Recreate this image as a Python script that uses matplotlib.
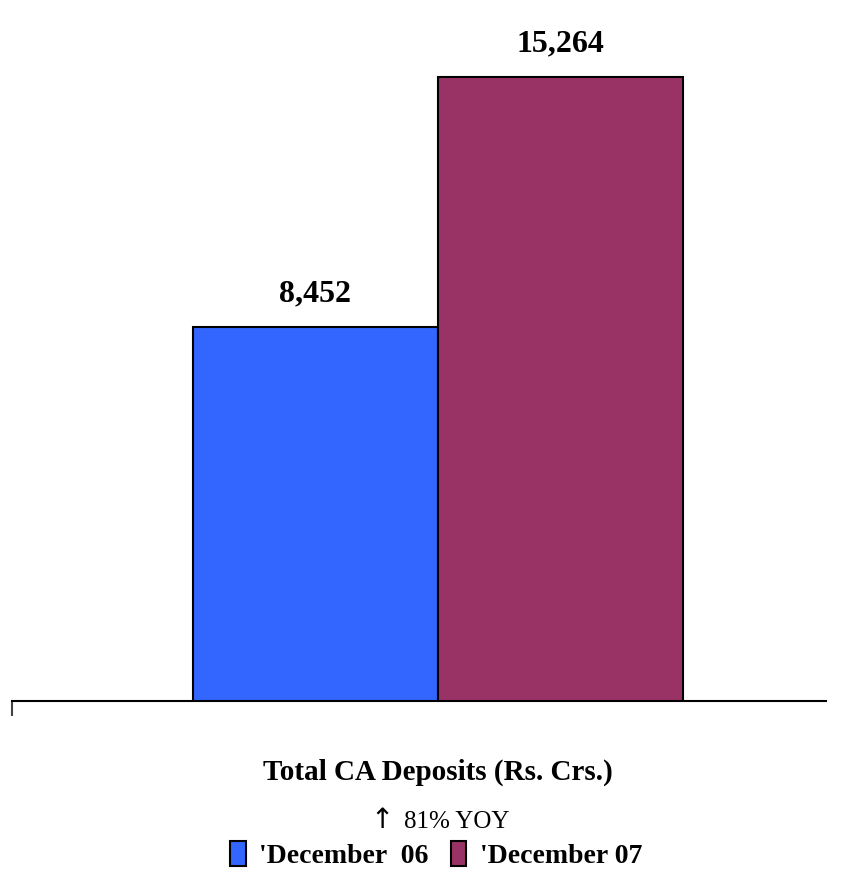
import matplotlib.pyplot as plt
from matplotlib.patches import Patch

periods = ["'December  06", "'December 07"]
deposits = [8452, 15264]
colors = ['#3366FF', '#993366']
title = 'Total CA Deposits (Rs. Crs.)'
arrow = '\u2191'
growth = '81% YOY'

# value axis does not start at zero
base = -1739
top = 16817

plt.rcParams['font.family'] = ['Liberation Serif', 'DejaVu Serif']

fig = plt.figure(figsize=(8.54, 8.94), dpi=100)
ax = fig.add_axes([12 / 854, 1 - 701 / 894, 814 / 854, 681 / 894])

x = [0, 1]
heights = [v - base for v in deposits]
ax.bar(x, heights, bottom=base, width=1.0, color=colors,
       edgecolor='black', linewidth=1.5, zorder=3)

for xi, v in zip(x, deposits):
    ax.text(xi, v + 520, f'{v:,}', ha='center', va='bottom',
            fontsize=23, fontweight='bold', clip_on=False)

ax.set_xlim(-1.239, 2.086)
ax.set_ylim(base, top)

for side in ['top', 'right', 'left']:
    ax.spines[side].set_visible(False)
ax.spines['bottom'].set_linewidth(1.5)
ax.set_yticks([])
ax.set_xticks([-1.239])
ax.set_xticklabels([''])
ax.tick_params(axis='x', length=11, width=1.5, color='#444444', direction='out')

fig.text(0.513, 1 - 772 / 894, title, ha='center', va='center',
         fontsize=21, fontweight='bold')
fig.text(382 / 854, 1 - 820 / 894, arrow, ha='center', va='center',
         fontsize=20, family=['DejaVu Sans'])
fig.text(404 / 854, 1 - 822 / 894, growth, ha='left', va='center',
         fontsize=18)

handles = [Patch(facecolor=c, edgecolor='black', linewidth=1.5) for c in colors]
fig.legend(handles, periods, loc='center', bbox_to_anchor=(0.511, 1 - 855 / 894),
           ncol=2, frameon=False, prop={'weight': 'bold', 'size': 20},
           handlelength=0.55, handleheight=1.0, handletextpad=0.5,
           columnspacing=0.8)

fig.savefig('out.png', dpi=100)
